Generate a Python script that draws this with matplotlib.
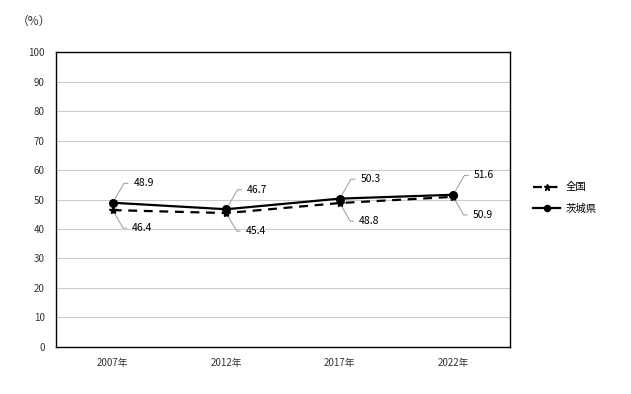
import matplotlib
matplotlib.use("Agg")
import matplotlib.pyplot as plt

plt.rcParams['font.family'] = ['Noto Sans CJK JP', 'DejaVu Sans']

years = ['2007年', '2012年', '2017年', '2022年']
zenkoku = [46.4, 45.4, 48.8, 50.9]
ibaraki = [48.9, 46.7, 50.3, 51.6]

fig = plt.figure(figsize=(6.31, 3.94), dpi=100)
ax = fig.add_axes([0.0887, 0.1193, 0.7195, 0.7487])

x = list(range(len(years)))
ax.plot(x, zenkoku, color='black', lw=1.6, ls=(0, (4, 3)), marker='*', ms=6, label='全国')
ax.plot(x, ibaraki, color='black', lw=1.6, marker='o', ms=5.5, label='茨城県')

for i in x:
    ax.annotate(f'{ibaraki[i]:.1f}', xy=(i, ibaraki[i]), xytext=(15, 14), textcoords='offset points',
                fontsize=7.5, ha='left', va='center',
                arrowprops=dict(arrowstyle='-', color='#999999', lw=0.7, shrinkA=2, shrinkB=3,
                                connectionstyle='angle,angleA=0,angleB=60,rad=0'))
    ax.annotate(f'{zenkoku[i]:.1f}', xy=(i, zenkoku[i]), xytext=(14, -13), textcoords='offset points',
                fontsize=7.5, ha='left', va='center',
                arrowprops=dict(arrowstyle='-', color='#999999', lw=0.7, shrinkA=2, shrinkB=3,
                                connectionstyle='angle,angleA=0,angleB=-60,rad=0'))

ax.set_xlim(-0.5, 3.5)
ax.set_ylim(0, 100)
ax.set_yticks(range(0, 101, 10))
ax.set_xticks(x)
ax.set_xticklabels(years)
ax.tick_params(length=0, labelsize=7, colors='#333333', pad=8)
ax.tick_params(axis='x', pad=8)
ax.grid(axis='y', color='#cccccc', lw=0.8)
ax.set_axisbelow(True)
for s in ax.spines.values():
    s.set_color('black')
    s.set_linewidth(1.0)

fig.text(0.027, 0.945, '（%）', fontsize=8.5, color='#333333', va='center')

ax.legend(loc='center left', bbox_to_anchor=(1.03, 0.505), frameon=False, fontsize=7.5,
          handlelength=2.6, handletextpad=0.5, labelspacing=1.1, markerscale=0.8)

fig.savefig('out.png', dpi=100)
